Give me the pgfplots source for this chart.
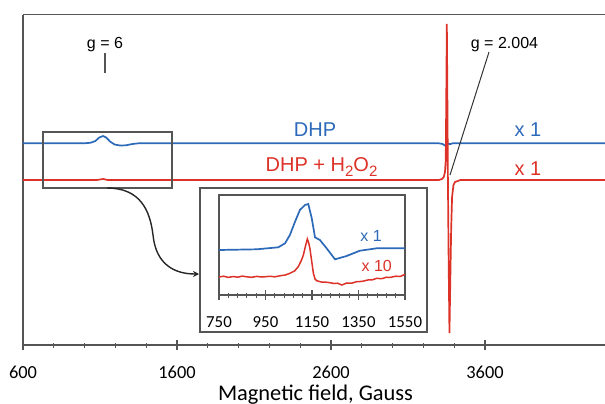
\documentclass[border=0pt]{standalone}
\usepackage{fontspec}
\setmainfont{Carlito}
\newfontfamily\arial{Liberation Sans}
\usepackage{pgfplots}
\pgfplotsset{compat=1.18}
\usetikzlibrary{arrows.meta}
\definecolor{bl}{RGB}{45,105,185}
\definecolor{rd}{RGB}{220,50,40}
\definecolor{fr}{RGB}{85,85,85}
\begin{document}
\begin{tikzpicture}
\useasboundingbox (0pt,0pt) rectangle (302.5pt,201.5pt);
% main axis
\begin{axis}[at={(11.5pt,29pt)}, anchor=south west, scale only axis,
  width=291pt, height=165.25pt,
  xmin=600, xmax=4379, ymin=0, ymax=330.5,
  axis lines*=left,
  xtick={600,1600,2600,3600}, xticklabels={600,1600,2600,3600},
  minor x tick num=4, ytick=\empty,
  tick align=center, major tick length=5pt, minor tick length=2.5pt,
  major tick style={fr, line width=0.6pt}, minor tick style={fr, line width=0.5pt},
  axis line style={fr, line width=0.8pt},
  xticklabel style={anchor=base, yshift=-14pt, font=\fontsize{9.2}{10}\selectfont, text=black},
  /pgf/number format/assume math mode=true]
\addplot[bl, line width=0.85pt] coordinates {
(600,201.7) (1000,201.7) (1040,202.3) (1070,204) (1095,207.5) (1120,209)
(1140,207.5) (1165,203.5) (1195,200.5) (1230,199.5) (1270,199.7) (1310,201)
(1350,201.7) (3300,201.7) (3325,201) (3338,199.5) (3350,200.5) (3360,201.5)
(3372,200.8) (3390,201.7) (4379,201.7)};
\addplot[rd, line width=0.85pt] coordinates {
(600,165) (1080,165) (1120,166) (1150,165) (3300,165) (3320,166) (3332,168)
(3340,173) (3345,185) (3349,260) (3352,321) (3355,260) (3359,165) (3364,80)
(3369,12) (3374,60) (3380,115) (3386,148) (3395,160) (3405,163) (3440,165)
(4379,165)};
\draw[fr, line width=0.8pt] (rel axis cs:0,1) -- (rel axis cs:1,1);
\draw[fr, line width=0.8pt] (axis cs:730,157) rectangle (axis cs:1567,213);
\end{axis}
% inset frame
\draw[fr, line width=0.8pt, fill=white] (100pt,35.5pt) rectangle (213.5pt,107.5pt);
\begin{axis}[at={(109.5pt,54pt)}, anchor=south west, scale only axis,
  width=93pt, height=50pt,
  xmin=750, xmax=1550, ymin=0, ymax=100,
  xtick={750,950,1150,1350,1550}, xticklabels={750,950,1150,1350,1550},
  minor x tick num=4, ytick=\empty, xtick pos=left,
  tick align=center, major tick length=5pt, minor tick length=2.5pt,
  major tick style={fr, line width=0.6pt}, minor tick style={fr, line width=0.5pt},
  axis line style={fr, line width=0.7pt},
  xticklabel style={anchor=base, yshift=-13.8pt, font=\fontsize{8.4}{9}\selectfont, text=black},
  /pgf/number format/assume math mode=true]
\addplot[bl, line width=0.85pt] coordinates {
(750,45) (912,45.7) (1005,47.7) (1034,51.7) (1055,60) (1077,73.3) (1098,85)
(1120,90) (1134,91) (1149,76.7) (1163,57.7) (1184,55) (1213,46.7) (1249,35.7)
(1299,39) (1356,44.3) (1428,46.7) (1550,46.7)};
\addplot[rd, line width=0.75pt] coordinates {
(750,18) (770,18.8) (790,17.6) (811,18.5) (830,17.8) (850,18.9) (869,18.2)
(890,17.7) (912,18.6) (935,18.0) (969,18.7) (990,18.2) (1012,19.2) (1035,20)
(1055,21.7) (1075,24) (1091,28.3) (1105,35) (1113,40) (1122,49) (1130,56)
(1136,52) (1141,46.7) (1148,35) (1156,21.7) (1163,16) (1170,14.3) (1190,13)
(1210,12.8) (1227,12.3) (1245,11.5) (1260,11.8) (1278,10) (1300,12) (1320,11.8)
(1342,13.3) (1365,13.6) (1390,15) (1410,15.2) (1428,16.7) (1450,16.3)
(1470,17.8) (1485,17.5) (1510,18.8) (1530,18.6) (1550,20.7)};
\end{axis}
% annotations
\node[anchor=base, inner sep=0pt, text=bl, font=\arial\fontsize{10}{12}\selectfont] at (157.5pt,133.15pt) {DHP};
\node[anchor=base, inner sep=0pt, text=rd, font=\arial\fontsize{10}{12}\selectfont] at (160.75pt,115.65pt) {DHP + H\raisebox{-2.3pt}{\fontsize{7.5}{8}\selectfont 2}O\raisebox{-2.3pt}{\fontsize{7.5}{8}\selectfont 2}};
\node[anchor=base, inner sep=0pt, text=bl, font=\arial\fontsize{10}{12}\selectfont] at (264pt,133.15pt) {x 1};
\node[anchor=base, inner sep=0pt, text=rd, font=\arial\fontsize{10}{12}\selectfont] at (264pt,114pt) {x 1};
\node[anchor=base, inner sep=0pt, font=\arial\fontsize{8}{10}\selectfont] at (52.5pt,177.35pt) {g = 6};
\draw[fr, line width=0.6pt] (52.5pt,175pt) -- (52.5pt,165pt);
\node[anchor=base, inner sep=0pt, font=\arial\fontsize{8}{10}\selectfont] at (252.25pt,177.35pt) {g = 2.004};
\draw[black!80, line width=0.5pt] (244.5pt,175.5pt) -- (225pt,114pt);
\node[anchor=base, inner sep=0pt, text=bl, font=\arial\fontsize{8}{10}\selectfont] at (185.5pt,80.65pt) {x 1};
\node[anchor=base, inner sep=0pt, text=rd, font=\arial\fontsize{8}{10}\selectfont] at (188.35pt,66pt) {x 10};
\draw[black!85, line width=0.7pt, -{Stealth[length=3pt,width=3pt]}] (53.5pt,107.5pt) .. controls (70pt,107.5pt) and (75pt,96.5pt) .. (76.5pt,84pt) .. controls (78pt,69pt) and (87.5pt,64.5pt) .. (99.5pt,64.5pt);
\node[anchor=base, inner sep=0pt, font=\fontsize{11.2}{13}\selectfont] at (157.75pt,1.5pt) {Magnetic field, Gauss};
\end{tikzpicture}
\end{document}
